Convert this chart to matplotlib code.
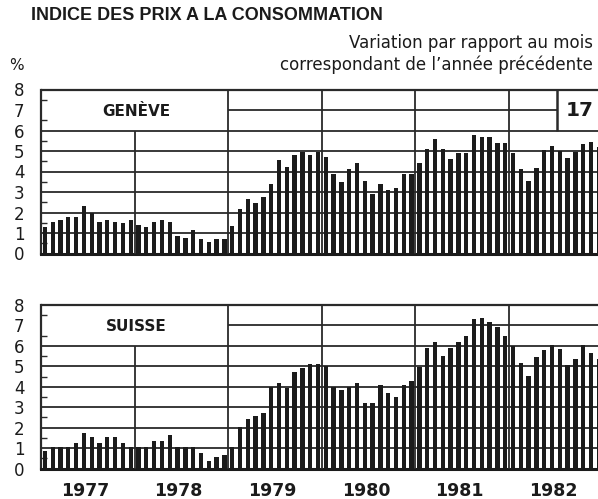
import matplotlib
matplotlib.use("Agg")
import matplotlib.pyplot as plt
import numpy as np

plt.rcParams["font.family"] = ["DejaVu Sans"]

# monthly change vs same month of previous year, Jan 1977 .. Dec 1982
geneve = [
    1.3, 1.55, 1.65, 1.8, 1.8, 2.3, 2.0, 1.55, 1.65, 1.55, 1.5, 1.65,   # 1977
    1.4, 1.3, 1.55, 1.65, 1.55, 0.85, 0.75, 1.15, 0.7, 0.55, 0.7, 0.7,  # 1978
    1.35, 2.15, 2.65, 2.45, 2.75, 3.4, 4.55, 4.2, 4.8, 4.95, 4.8, 4.95, # 1979
    4.7, 3.9, 3.5, 4.1, 4.4, 3.55, 2.9, 3.4, 3.1, 3.2, 3.9, 3.9,        # 1980
    4.4, 5.1, 5.6, 5.1, 4.6, 4.9, 4.9, 5.8, 5.7, 5.7, 5.4, 5.4,         # 1981
    4.9, 4.1, 3.55, 4.15, 5.05, 5.25, 5.0, 4.65, 4.95, 5.35, 5.45, 5.2, # 1982
]
suisse = [
    0.85, 1.05, 1.05, 1.05, 1.25, 1.75, 1.55, 1.25, 1.55, 1.55, 1.25, 1.05,  # 1977
    1.05, 1.05, 1.35, 1.35, 1.65, 1.05, 1.05, 1.05, 0.75, 0.35, 0.55, 0.65,  # 1978
    1.05, 2.05, 2.4, 2.55, 2.7, 4.0, 4.2, 3.95, 4.7, 4.9, 5.1, 5.1,          # 1979
    5.0, 4.0, 3.85, 4.0, 4.2, 3.2, 3.2, 4.1, 3.7, 3.5, 4.1, 4.3,             # 1980
    4.95, 5.9, 6.2, 5.5, 5.9, 6.2, 6.5, 7.3, 7.35, 7.15, 6.9, 6.5,          # 1981
    6.0, 5.15, 4.55, 5.45, 5.8, 6.05, 5.85, 5.05, 5.35, 6.05, 5.65, 5.35,   # 1982
]
years = ["1977", "1978", "1979", "1980", "1981", "1982"]
panels = ["GENÈVE", "SUISSE"]

W, H = 598, 499
fig = plt.figure(figsize=(W / 100, H / 100), dpi=100)
ink = "#1b1b1b"
line_c = "#2a2a2a"

x = np.arange(len(geneve)) + 0.5
xmax = 71.4
box_left = 66.15


def panel(ax, values, name, numbered):
    ax.bar(x, values, width=0.56, color=ink, zorder=3)
    ax.set_xlim(0, xmax)
    ax.set_ylim(0, 8)
    # horizontal rules
    for v in range(1, 7):
        ax.hlines(v, 0, xmax, color=line_c, lw=1.3, zorder=2)
    ax.hlines(7, 24, box_left if numbered else xmax, color=line_c, lw=1.3, zorder=2)
    ax.hlines(8, 0, xmax, color=line_c, lw=1.6, zorder=2, clip_on=False)
    # year separators
    ax.vlines(12, 0, 6, color=line_c, lw=1.3, zorder=4)
    for xv in (24, 36, 48, 60):
        ax.vlines(xv, 0, 8, color=line_c, lw=1.3, zorder=4)
    if numbered:
        ax.vlines(box_left, 6, 8, color=line_c, lw=1.8, zorder=4)
        ax.text((box_left + xmax) / 2 + 0.3, 7, "17", ha="center", va="center",
                fontsize=14.5, fontweight="bold", color=ink)
    ax.text(12.2, 6.95, name, ha="center", va="center", fontsize=11,
            fontweight="bold", color=ink)

    for s in ("top", "right"):
        ax.spines[s].set_visible(False)
    ax.spines["left"].set_linewidth(1.6)
    ax.spines["left"].set_color(line_c)
    ax.spines["bottom"].set_linewidth(2.2)
    ax.spines["bottom"].set_color(ink)

    ax.set_yticks(range(0, 9))
    ax.set_yticklabels([str(v) for v in range(0, 9)])
    ax.set_yticks(np.arange(0.5, 8, 1), minor=True)
    ax.tick_params(axis="y", which="major", length=0, pad=12, labelsize=12,
                   labelcolor=ink)
    ax.tick_params(axis="y", which="minor", direction="in", length=4, width=1,
                   color=line_c)
    ax.set_xticks(np.arange(6, 72, 12) - 0.35)
    ax.tick_params(axis="x", length=0, pad=10, labelsize=12.5, labelcolor=ink)


ax1 = fig.add_axes([41 / W, 1 - 253.5 / H, 1 - 41 / W, 164 / H])
ax2 = fig.add_axes([41 / W, 1 - 468.5 / H, 1 - 41 / W, 163.5 / H])
panel(ax1, geneve, panels[0], True)
panel(ax2, suisse, panels[1], False)
ax1.set_xticklabels([])
ax2.set_xticklabels(years, fontweight="bold")

fig.text(31 / W, 1 - 16 / H, "INDICE DES PRIX A LA CONSOMMATION", ha="left",
         va="center", fontsize=13, fontweight="bold", color=ink,
         family="Liberation Sans")
fig.text(593 / W, 1 - 43 / H, "Variation par rapport au mois", ha="right",
         va="center", fontsize=12, color=ink)
fig.text(593 / W, 1 - 65 / H, "correspondant de l\u2019année précédente", ha="right",
         va="center", fontsize=12, color=ink)
fig.text(9 / W, 1 - 66 / H, "%", ha="left", va="center", fontsize=11, color=ink)

fig.savefig("out.png", dpi=100, facecolor="white")
plt.close(fig)
